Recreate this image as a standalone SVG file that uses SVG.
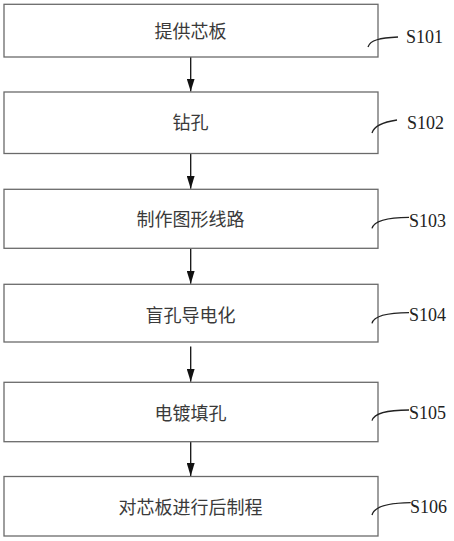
<svg xmlns="http://www.w3.org/2000/svg" width="454" height="541" viewBox="0 0 454 541">
<style>
.box{fill:#fff;stroke:#6a6a6a;stroke-width:1.3}
.t{font-family:"Noto Sans CJK SC","Noto Sans",sans-serif;font-size:18px;fill:#3a3a3a;text-anchor:middle}
.lab{font-family:"Liberation Serif",serif;font-size:18px;fill:#222}
.hook{fill:none;stroke:#222;stroke-width:1.3}
.arr{stroke:#111;stroke-width:1.3;fill:none;marker-end:url(#ah)}
</style>
<defs>
<marker id="ah" markerWidth="13" markerHeight="8" refX="13" refY="4" orient="auto" markerUnits="userSpaceOnUse" viewBox="0 0 13 8">
<path d="M0,0 L13,4 L0,8 Z" fill="#111"/>
</marker>
</defs>
<rect width="454" height="541" fill="#fff"/>
<g id="connectors">
<line class="arr" x1="190.7" y1="57" x2="190.7" y2="91.5"/>
<line class="arr" x1="190.7" y1="153.5" x2="190.7" y2="188.8"/>
<line class="arr" x1="190.7" y1="248.5" x2="190.7" y2="283.8"/>
<line class="arr" x1="190.7" y1="346.5" x2="190.7" y2="381.8"/>
<line class="arr" x1="190.7" y1="441.5" x2="190.7" y2="476"/>
</g>
<g id="S101">
<rect class="box" x="4" y="4.3" width="374" height="52.7"/>
<text class="t" x="190.5" y="38">提供芯板</text>
<path class="hook" d="M368,47 C370,40 380,38 398,37"/>
<text class="lab" x="406" y="43">S101</text>
</g>
<g id="S102">
<rect class="box" x="4" y="92" width="374" height="61.5"/>
<text class="t" x="190.5" y="128.5">钻孔</text>
<path class="hook" d="M372,133 C374,126 383,122 397,120"/>
<text class="lab" x="407" y="129">S102</text>
</g>
<g id="S103">
<rect class="box" x="4" y="189.3" width="374" height="59"/>
<text class="t" x="190.5" y="226">制作图形线路</text>
<path class="hook" d="M372,228.3 C374,221 386,217.5 409,217.3"/>
<text class="lab" x="409" y="226.7">S103</text>
</g>
<g id="S104">
<rect class="box" x="4" y="284.3" width="374" height="57.7"/>
<text class="t" x="190.5" y="321.5">盲孔导电化</text>
<path class="hook" d="M372,323.3 C374,316 386,312.8 409,312.7"/>
<text class="lab" x="409" y="320.7">S104</text>
</g>
<g id="S105">
<rect class="box" x="4" y="382.3" width="374" height="59.4"/>
<text class="t" x="190.5" y="420">电镀填孔</text>
<path class="hook" d="M372,420.7 C374,413.5 386,410 409,410"/>
<text class="lab" x="409" y="419">S105</text>
</g>
<g id="S106">
<rect class="box" x="4" y="476.5" width="374" height="59.5"/>
<text class="t" x="190.5" y="513.5">对芯板进行后制程</text>
<path class="hook" d="M372,515 C374,507 386,503 410.7,502.7"/>
<text class="lab" x="410" y="513.3">S106</text>
</g>
</svg>
